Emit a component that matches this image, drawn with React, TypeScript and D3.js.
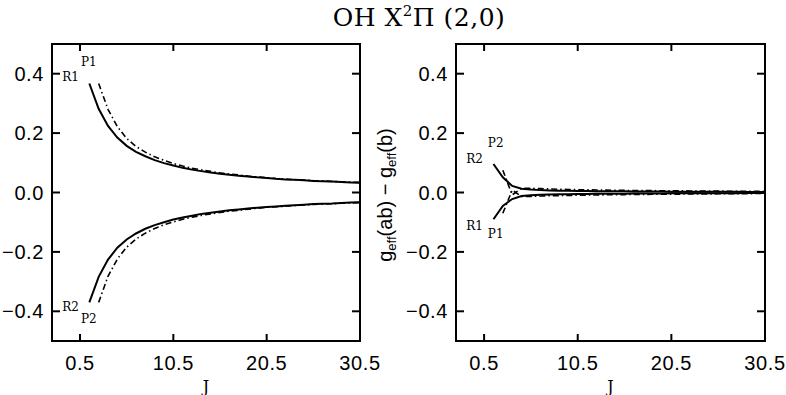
import * as d3 from 'd3'

// J grid of the curves
const jFrom1 = [1.5, 2.5, 3.5, 4.5, 5.5, 6.5, 7.5, 8.5, 9.5, 10.5, 11.5, 12.5, 13.5, 14.5, 15.5,
  16.5, 17.5, 18.5, 19.5, 20.5, 21.5, 22.5, 23.5, 24.5, 25.5, 26.5, 27.5, 28.5, 29.5, 30.5]
const jFrom2 = jFrom1.slice(1)

// left panel: g_eff(ab) - g_eff(a)
const leftR1 = [0.367, 0.282, 0.224, 0.185, 0.157, 0.137, 0.122, 0.109, 0.099, 0.091, 0.083, 0.077,
  0.072, 0.067, 0.063, 0.06, 0.056, 0.054, 0.051, 0.049, 0.046, 0.044, 0.043, 0.041, 0.039, 0.038,
  0.037, 0.035, 0.034, 0.033]
const leftP1 = [0.367, 0.28, 0.222, 0.182, 0.155, 0.136, 0.12, 0.108, 0.098, 0.089, 0.082, 0.076,
  0.071, 0.066, 0.062, 0.059, 0.055, 0.052, 0.05, 0.047, 0.045, 0.043, 0.042, 0.04, 0.039, 0.037,
  0.036, 0.035, 0.034]
const leftR2 = [-0.37, -0.284, -0.226, -0.186, -0.158, -0.138, -0.122, -0.11, -0.1, -0.091, -0.084,
  -0.078, -0.072, -0.068, -0.064, -0.06, -0.057, -0.054, -0.051, -0.049, -0.047, -0.045, -0.043,
  -0.041, -0.039, -0.038, -0.037, -0.035, -0.034, -0.033]
const leftP2 = [-0.37, -0.282, -0.224, -0.184, -0.157, -0.137, -0.121, -0.109, -0.099, -0.09, -0.083,
  -0.077, -0.072, -0.067, -0.063, -0.06, -0.056, -0.053, -0.05, -0.048, -0.046, -0.044, -0.042,
  -0.04, -0.039, -0.038, -0.036, -0.035, -0.034]

// right panel: g_eff(ab) - g_eff(b)
const rightR2 = [0.096, 0.051, 0.022, 0.013, 0.01, 0.008, 0.007, 0.006, 0.0055, 0.005, 0.0048, 0.0045,
  0.0042, 0.004, 0.0038, 0.0036, 0.0034, 0.0032, 0.003, 0.0029, 0.0028, 0.0027, 0.0026, 0.0025,
  0.0024, 0.0023, 0.0022, 0.0021, 0.002, 0.002]
const rightP2 = [0.075, -0.008, 0.014, 0.014, 0.013, 0.012, 0.011, 0.01, 0.0095, 0.009, 0.0085, 0.008,
  0.0075, 0.007, 0.0068, 0.0065, 0.0062, 0.006, 0.0058, 0.0055, 0.0052, 0.005, 0.0048, 0.0046,
  0.0044, 0.0042, 0.004, 0.0038, 0.0036]
const rightR1 = [-0.09, -0.045, -0.022, -0.012, -0.009, -0.0075, -0.0065, -0.006, -0.0055, -0.005,
  -0.0048, -0.0045, -0.0042, -0.004, -0.0038, -0.0036, -0.0034, -0.0032, -0.003, -0.0029, -0.0028,
  -0.0027, -0.0026, -0.0025, -0.0024, -0.0023, -0.0022, -0.0021, -0.002, -0.002]
const rightP1 = [-0.07, 0.008, -0.013, -0.013, -0.012, -0.011, -0.0105, -0.0098, -0.0092, -0.0087,
  -0.0082, -0.0078, -0.0074, -0.007, -0.0066, -0.0063, -0.006, -0.0058, -0.0055, -0.0053, -0.005,
  -0.0048, -0.0046, -0.0044, -0.0042, -0.004, -0.0038, -0.0036, -0.0035]

const xTicks = [0.5, 10.5, 20.5, 30.5]
const yTicks = [-0.4, -0.2, 0.0, 0.2, 0.4]

const TOP = 44
const BOTTOM = 341
const TICKFONT = '"Liberation Sans", Arial, sans-serif'
const LABELFONT = '"DejaVu Serif", "Liberation Serif", serif'
const DASHDOT = '6,3,1.5,3'

type Curve = { j: number[]; v: number[]; dash?: string }
type Label = { text: string; j: number; v: number }

const Panel = ({ x0, x1, curves, labels }: { x0: number; x1: number; curves: Curve[]; labels: Label[] }) => {
  const x = d3.scaleLinear().domain([-2.5, 30.5]).range([x0, x1])
  const y = d3.scaleLinear().domain([-0.5, 0.5]).range([BOTTOM, TOP])
  const fmt = d3.format('.1f')
  const line = d3
    .line<[number, number]>()
    .x((d) => x(d[0]))
    .y((d) => y(d[1]))

  return (
    <g>
      {curves.map((c, i) => (
        <path
          key={i}
          d={line(c.j.map((j, k) => [j, c.v[k]] as [number, number])) || ''}
          fill="none"
          stroke="#000"
          strokeWidth={c.dash ? 1.6 : 2}
          strokeDasharray={c.dash}
        />
      ))}
      {/* frame */}
      <rect x={x0} y={TOP} width={x1 - x0} height={BOTTOM - TOP} fill="none" stroke="#000" strokeWidth={2} />
      {/* x ticks */}
      {xTicks.map((t) => (
        <g key={'x' + t}>
          <line x1={x(t)} x2={x(t)} y1={BOTTOM} y2={BOTTOM - 7} stroke="#000" strokeWidth={2} />
          <line x1={x(t)} x2={x(t)} y1={TOP} y2={TOP + 7} stroke="#000" strokeWidth={2} />
          <text x={x(t)} y={370} textAnchor="middle" fontFamily={TICKFONT} fontSize={20} letterSpacing={0.6}>
            {fmt(t)}
          </text>
        </g>
      ))}
      {/* y ticks */}
      {yTicks.map((t) => (
        <g key={'y' + t}>
          <line x1={x0} x2={x0 + 8} y1={y(t)} y2={y(t)} stroke="#000" strokeWidth={2} />
          <line x1={x1} x2={x1 - 8} y1={y(t)} y2={y(t)} stroke="#000" strokeWidth={2} />
          <text x={x0 - 8} y={y(t) + 7} textAnchor="end" fontFamily={TICKFONT} fontSize={20} letterSpacing={0.6}>
            {fmt(t)}
          </text>
        </g>
      ))}
      <text x={(x0 + x1) / 2} y={392} textAnchor="middle" fontFamily={LABELFONT} fontSize={16}>
        J
      </text>
      {labels.map((l) => (
        <text key={l.text} x={x(l.j)} y={y(l.v)} fontFamily={LABELFONT} fontSize={12}>
          {l.text}
        </text>
      ))}
    </g>
  )
}

export default function App() {
  return (
    <svg width={786} height={395} style={{ position: 'absolute', left: 0, top: 0, background: '#fff' }}>
      <rect width={786} height={395} fill="#fff" />
      <text x={419} y={26} textAnchor="middle" fontFamily={LABELFONT} fontSize={25} letterSpacing={0.5}>
        OH X<tspan dy={-10} fontSize={15}>2</tspan>
        <tspan dy={10}>Π (2,0)</tspan>
      </text>
      <Panel
        x0={52}
        x1={360}
        curves={[
          { j: jFrom1, v: leftR1 },
          { j: jFrom2, v: leftP1, dash: DASHDOT },
          { j: jFrom1, v: leftR2 },
          { j: jFrom2, v: leftP2, dash: DASHDOT },
        ]}
        labels={[
          { text: 'R1', j: -1.4, v: 0.375 },
          { text: 'P1', j: 0.6, v: 0.425 },
          { text: 'R2', j: -1.4, v: -0.4 },
          { text: 'P2', j: 0.6, v: -0.44 },
        ]}
      />
      <Panel
        x0={456}
        x1={765}
        curves={[
          { j: jFrom1, v: rightR2 },
          { j: jFrom2, v: rightP2, dash: DASHDOT },
          { j: jFrom1, v: rightR1 },
          { j: jFrom2, v: rightP1, dash: DASHDOT },
        ]}
        labels={[
          { text: 'R2', j: -1.4, v: 0.1 },
          { text: 'P2', j: 0.9, v: 0.152 },
          { text: 'R1', j: -1.4, v: -0.125 },
          { text: 'P1', j: 0.9, v: -0.152 },
        ]}
      />
      <text transform="translate(392,195) rotate(-90)" textAnchor="middle" fontFamily={TICKFONT} fontSize={20}>
        g<tspan dy={4} fontSize={13}>eff</tspan>
        <tspan dy={-4}>(ab) − g</tspan>
        <tspan dy={4} fontSize={13}>eff</tspan>
        <tspan dy={-4}>(b)</tspan>
      </text>
    </svg>
  )
}
